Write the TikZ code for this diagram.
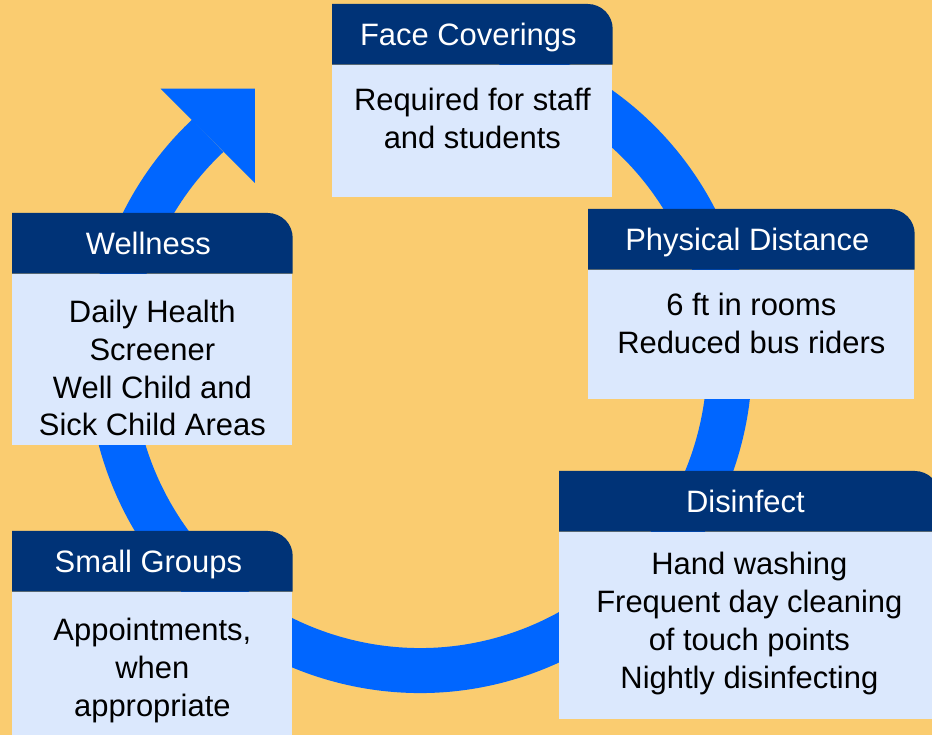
\documentclass[tikz,border=0pt]{standalone}
\usepackage{fontspec}
\setmainfont{Liberation Sans}
\usepackage{xcolor}
\usetikzlibrary{positioning}
\definecolor{sandbg}{RGB}{250, 204, 112}
\definecolor{ringblue}{RGB}{0, 102, 255}
\definecolor{headnavy}{RGB}{0, 51, 119}
\definecolor{cardblue}{RGB}{219, 232, 253}

\pgfdeclarelayer{ringlayer}
\pgfdeclarelayer{background}
\pgfsetlayers{ringlayer,background,main}

\tikzset{
  cardfont/.style={font=\fontsize{17.6}{21.5}\selectfont},
  headbox/.style={cardfont, text=white, anchor=north west, inner sep=0pt, minimum height=1.2cm, text height=12.5pt, text depth=0pt,
    execute at begin node=\hspace*{-0.08cm}, execute at end node=\hspace*{0.08cm}},
  bodybox/.style={cardfont, fill=cardblue, inner xsep=0pt, inner ysep=0.46cm},
}
% header band, only the top right corner is rounded
\newcommand{\headfill}[1]{\fill[headnavy] (#1.south west) -- (#1.north west) -- ([xshift=-0.5cm]#1.north east) arc[start angle=90, end angle=0, radius=0.5cm] -- (#1.south east) -- cycle;}

\begin{document}
\begin{tikzpicture}
\useasboundingbox (0,0) rectangle (18.64,14.70);

% cards
\node[headbox, minimum width=5.6cm] (fch) at (6.64,14.62) {Face Coverings};
\node[bodybox, below=0pt of fch] (fcb) {\begin{minipage}[t][1.72cm][t]{5.6cm}\centering Required for staff\\and students\end{minipage}};

\node[headbox, minimum width=6.52cm] (pdh) at (11.76,10.52) {Physical Distance};
\node[bodybox, below=0pt of pdh] (pdb) {\begin{minipage}[t][1.66cm][t]{6.52cm}\centering 6 ft in rooms\\Reduced bus riders\end{minipage}};

\node[headbox, minimum width=5.6cm] (weh) at (0.24,10.44) {Wellness};
\node[bodybox, below=0pt of weh] (web) {\begin{minipage}[t][2.50cm][t]{5.6cm}\centering\vspace*{0.06cm} Daily Health\\Screener\\Well Child and\\Sick Child Areas\end{minipage}};

\node[headbox, minimum width=5.6cm] (sgh) at (0.24,4.08) {Small Groups};
\node[bodybox, below=0pt of sgh] (sgb) {\begin{minipage}[t][2.08cm][t]{5.6cm}\centering\vspace*{0.06cm} Appointments,\\when\\appropriate\end{minipage}};

\node[headbox, minimum width=7.6cm] (dih) at (11.18,5.28) {Disinfect};
\node[bodybox, below=0pt of dih] (dib) {\begin{minipage}[t][2.82cm][t]{7.6cm}\centering\vspace*{-0.05cm} Hand washing\\Frequent day cleaning\\of touch points\\Nightly disinfecting\end{minipage}};

\begin{pgfonlayer}{background}
\foreach \h in {fch,pdh,weh,sgh,dih} {\headfill{\h}}
\end{pgfonlayer}

% ring with arrow head
\begin{pgfonlayer}{ringlayer}
\fill[sandbg] (0,0) rectangle (18.64,14.70);
\coordinate (ringc) at (8.4,7.48);
\draw[ringblue, line width=0.9cm] (ringc) ++(75:6.19) arc[start angle=75, end angle=-226.7, radius=6.19];
\path (ringc) ++(133.3:6.19) coordinate (ringend);
\fill[ringblue, shift={(ringend)}, rotate=45] (0,1.33) -- (1.33,0) -- (0,-1.33) -- cycle;
\end{pgfonlayer}
\end{tikzpicture}
\end{document}
